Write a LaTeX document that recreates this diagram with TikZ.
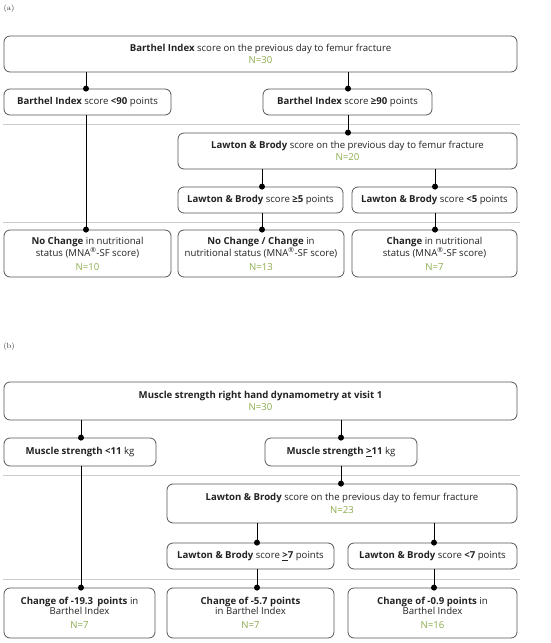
\documentclass[tikz,border=0pt]{standalone}
\usepackage{fontspec}
\setmainfont{Open Sans}
\newfontfamily\labfont{Latin Modern Roman}
\definecolor{ngreen}{HTML}{8AAA4A}
\definecolor{txt}{HTML}{222222}
\definecolor{bord}{HTML}{555555}
\definecolor{sep}{HTML}{CCCCCC}
\newcommand{\nn}[1]{\textcolor{ngreen}{#1}}
\begin{document}
\begin{tikzpicture}[x=1pt,y=-1pt,
  box/.style={draw=bord,line width=0.8pt,rounded corners=6pt,align=center,text=txt,
    font=\fontsize{9.6}{10.5}\selectfont,inner sep=0pt},
  conn/.style={draw=black,line width=0.8pt},
  sepline/.style={draw=sep,line width=0.6pt},
  lab/.style={font=\labfont\fontsize{7.5}{8}\selectfont,text=black!80,inner sep=0pt}]
\useasboundingbox (0,0) rectangle (550,643);
% ---------- panel (a)
\node[lab] (la) at (9,9) {(a)};
\draw[sepline] (3,124) -- (520,124);
\draw[sepline] (3,222) -- (520,222);
\node[box,minimum width=513pt,minimum height=36pt] (a0) at (260.5,54)
  {\textbf{Barthel Index} score on the previous day to femur fracture\\[2pt]\nn{N=30}};
\node[box,minimum width=167pt,minimum height=26pt] (a1) at (87.5,102)
  {\textbf{Barthel Index} score \textbf{<90} points};
\node[box,minimum width=169pt,minimum height=26pt] (a2) at (347.5,102)
  {\textbf{Barthel Index} score \textbf{≥90} points};
\node[box,minimum width=339pt,minimum height=36pt] (a3) at (347.5,151)
  {\textbf{Lawton \& Brody} score on the previous day to femur fracture\\[2pt]\nn{N=20}};
\node[box,minimum width=165pt,minimum height=26pt] (a4) at (260.5,200)
  {\textbf{Lawton \& Brody} score \textbf{≥5} points};
\node[box,minimum width=165pt,minimum height=26pt] (a5) at (434.5,200)
  {\textbf{Lawton \& Brody} score \textbf{<5} points};
\node[box,minimum width=167pt,minimum height=47pt] (a6) at (87.5,253.5)
  {\textbf{No Change} in nutritional\\status (MNA\textsuperscript{®}-SF score)\\[3.5pt]\nn{N=10}};
\node[box,minimum width=166pt,minimum height=47pt] (a7) at (261,253.5)
  {\textbf{No Change / Change} in\\nutritional status (MNA\textsuperscript{®}-SF score)\\[3.5pt]\nn{N=13}};
\node[box,minimum width=165pt,minimum height=47pt] (a8) at (434.5,253.5)
  {\textbf{Change} in nutritional\\status (MNA\textsuperscript{®}-SF score)\\[3.5pt]\nn{N=7}};
\foreach \p/\c/\x in {a0/a1/86, a0/a2/348, a2/a3/348, a3/a4/262, a3/a5/435, a1/a6/86, a4/a7/262, a5/a8/435}{
  \draw[conn] (\x,0 |- \p.south) -- (\x,0 |- \c.north);
  \fill (\x,0 |- \c.north) circle (3pt);
}
% ---------- panel (b)
\node[lab] (lb) at (9,347) {(b)};
\draw[sepline] (3,475) -- (520,475);
\draw[sepline] (3,579) -- (520,579);
\node[box,minimum width=513pt,minimum height=38pt] (b0) at (260.5,401)
  {\textbf{Muscle strength right hand dynamometry at visit 1}\\[2pt]\nn{N=30}};
\node[box,minimum width=152pt,minimum height=28pt] (b1) at (80,452)
  {\textbf{Muscle strength <11} kg};
\node[box,minimum width=152pt,minimum height=28pt] (b2) at (341,452)
  {\textbf{Muscle strength \underline{>}11} kg};
\node[box,minimum width=350pt,minimum height=39pt] (b3) at (342,503.5)
  {\textbf{Lawton \& Brody} score on the previous day to femur fracture\\[2pt]\nn{N=23}};
\node[box,minimum width=167pt,minimum height=26pt] (b4) at (250.5,556)
  {\textbf{Lawton \& Brody} score \textbf{\underline{>}7} points};
\node[box,minimum width=169pt,minimum height=26pt] (b5) at (432.5,556)
  {\textbf{Lawton \& Brody} score \textbf{<7} points};
\node[box,minimum width=151pt,minimum height=50pt] (b6) at (79.5,613)
  {\textbf{Change of -19.3 \,points} in\\Barthel Index\\[3.5pt]\nn{N=7}};
\node[box,minimum width=167pt,minimum height=50pt] (b7) at (250.5,613)
  {\textbf{Change of -5.7 points}\\in Barthel Index\\[3.5pt]\nn{N=7}};
\node[box,minimum width=169pt,minimum height=50pt] (b8) at (432.5,613)
  {\textbf{Change of -0.9 points} in\\Barthel Index\\[3.5pt]\nn{N=16}};
\foreach \p/\c/\x in {b0/b1/81, b0/b2/341, b2/b3/341, b3/b4/257, b3/b5/434, b1/b6/81, b4/b7/257, b5/b8/434}{
  \draw[conn] (\x,0 |- \p.south) -- (\x,0 |- \c.north);
  \fill (\x,0 |- \c.north) circle (3pt);
}
\end{tikzpicture}
\end{document}
